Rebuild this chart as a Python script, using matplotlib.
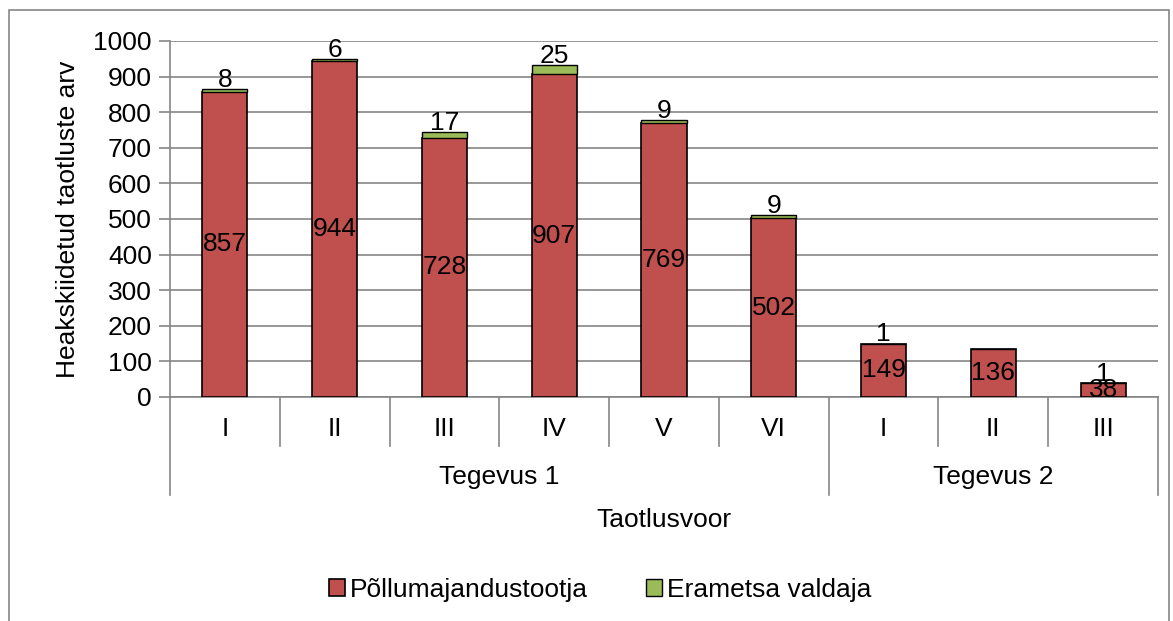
import numpy as np
import matplotlib.pyplot as plt
from matplotlib.patches import Rectangle

plt.rcParams['font.family'] = ['Liberation Sans', 'DejaVu Sans']

# andmed
voorud = ["I", "II", "III", "IV", "V", "VI", "I", "II", "III"]
grupid = ["Tegevus 1", "Tegevus 2"]
grupi_suurus = [6, 3]
pollumajandus = [857, 944, 728, 907, 769, 502, 149, 136, 38]
erametsa = [8, 6, 17, 25, 9, 9, 1, 0, 1]

PUNANE = "#C0504D"
ROHELINE = "#9BBB59"
HALL = "#868686"
FS = 19

fig = plt.figure(figsize=(11.73, 6.21), dpi=100)
fig.patches.append(Rectangle((9 / 1173, -5 / 621), 1160 / 1173, 616 / 621,
                             transform=fig.transFigure, fill=False,
                             edgecolor=HALL, linewidth=1.2))

ax = fig.add_axes([170 / 1173, 1 - 397 / 621, 988 / 1173, 356 / 621])

x = np.arange(len(voorud))
ax.bar(x, pollumajandus, width=0.41, color=PUNANE, edgecolor="black",
       linewidth=1.2, label="Põllumajandustootja", zorder=3)
ax.bar(x, erametsa, width=0.41, bottom=pollumajandus, color=ROHELINE,
       edgecolor="black", linewidth=1.0, label="Erametsa valdaja", zorder=3)

for xi, p, e in zip(x, pollumajandus, erametsa):
    ax.text(xi, p / 2, str(p), ha="center", va="center", fontsize=FS, zorder=4)
    if e > 0:
        ax.annotate(str(e), (xi, p + e), xytext=(0, -2), textcoords="offset points",
                    ha="center", va="bottom", fontsize=FS, zorder=4)

ax.set_xlim(-0.5, len(voorud) - 0.5)
ax.set_ylim(0, 1000)
ax.set_yticks(np.arange(0, 1001, 100))
ax.yaxis.grid(True, color=HALL, linewidth=1.2, zorder=0)
ax.tick_params(axis="y", direction="out", length=8, color=HALL, width=1.2,
               labelsize=FS, pad=5)
ax.set_xticks([])
for s in ["top", "right"]:
    ax.spines[s].set_visible(False)
ax.spines["left"].set_color(HALL)
ax.spines["left"].set_linewidth(1.2)
ax.spines["bottom"].set_color(HALL)
ax.spines["bottom"].set_linewidth(1.2)

tr = ax.get_xaxis_transform()
h1 = -49 / 356
h2 = -98 / 356
piirid = [-0.5]
for g in grupi_suurus:
    piirid.append(piirid[-1] + g)
for b in np.arange(-0.5, len(voorud)):
    alla = h2 if b in piirid else h1
    ax.plot([b, b], [0, alla], transform=tr, color=HALL, linewidth=1.2,
            clip_on=False)

for xi, lab in zip(x, voorud):
    ax.text(xi, -32 / 356, lab, transform=tr, ha="center", va="center", fontsize=FS)
for i, g in enumerate(grupid):
    kesk = (piirid[i] + piirid[i + 1]) / 2
    ax.text(kesk, -80 / 356, g, transform=tr, ha="center", va="center", fontsize=FS)

ax.text(0.5, -123 / 356, "Taotlusvoor", transform=ax.transAxes, ha="center",
        va="center", fontsize=FS)
ax.set_ylabel("Heakskiidetud taotluste arv", fontsize=FS, labelpad=10)

fig.legend(loc="center", bbox_to_anchor=(600 / 1173, 1 - 590 / 621), ncol=2,
           frameon=False, fontsize=FS, handlelength=0.6, handleheight=0.6,
           handletextpad=0.2, columnspacing=2.2)

fig.savefig("out.png", dpi=100)
